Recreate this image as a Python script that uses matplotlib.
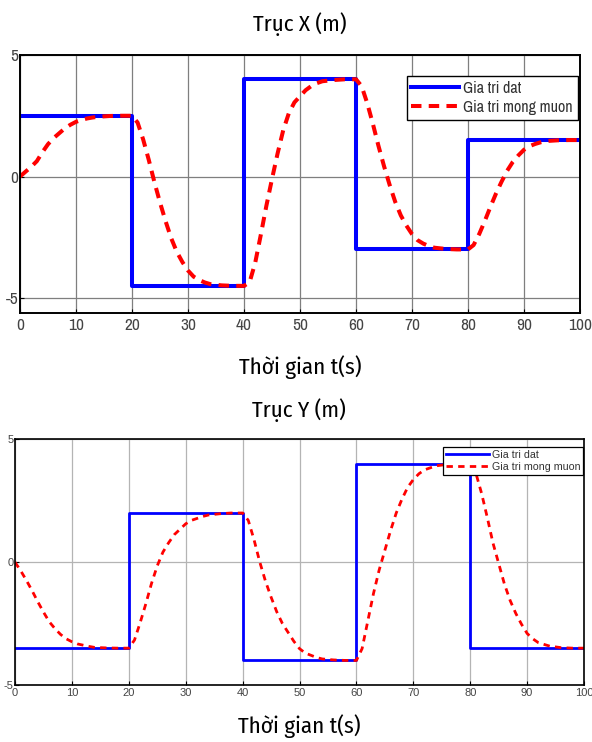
import matplotlib
matplotlib.use("Agg")
import matplotlib.pyplot as plt

plt.rcParams["axes.unicode_minus"] = False

# gia tri dat (step setpoints)
t_dat = [0, 20, 40, 60, 80, 100]
x_dat = [2.5, -4.5, 4, -3, 1.5, 1.5]
y_dat = [-3.5, 2, -4, 4, -3.5, -3.5]

# gia tri mong muon
t_mm = [0, 1, 2, 3, 4, 5, 6, 7, 8, 9, 10, 11, 12, 13, 14, 16, 18,
        20, 21, 22, 23, 24, 25, 26, 27, 28, 29, 30, 31, 32, 33, 34, 36, 38,
        40, 41, 42, 43, 44, 45, 46, 47, 48, 49, 50, 51, 52, 53, 54, 56, 58,
        60, 61, 62, 63, 64, 65, 66, 67, 68, 69, 70, 71, 72, 73, 74, 76, 78,
        80, 81, 82, 83, 84, 85, 86, 87, 88, 89, 90, 91, 92, 93, 94, 96, 98,
        100]
x_mm = [0, 0.2, 0.4, 0.63, 1.0, 1.33, 1.58, 1.78, 1.98, 2.13, 2.25, 2.33, 2.39, 2.43, 2.46, 2.49, 2.5,
        2.5, 2.22, 1.52, 0.68, -0.23, -1.07, -1.84, -2.54, -3.1, -3.52, -3.87, -4.12, -4.26, -4.36, -4.43, -4.48, -4.5,
        -4.5, -4.35, -3.55, -2.4, -1.2, -0.1, 0.95, 1.9, 2.6, 3.05, 3.3, 3.55, 3.72, 3.84, 3.92, 3.97, 4.0,
        4, 3.72, 3.02, 2.18, 1.27, 0.43, -0.34, -1.04, -1.6, -2.02, -2.37, -2.62, -2.76, -2.86, -2.93, -2.98, -3,
        -3, -2.82, -2.37, -1.83, -1.25, -0.7, -0.21, 0.24, 0.6, 0.87, 1.1, 1.25, 1.34, 1.41, 1.46, 1.49, 1.5,
        1.5]
y_mm = [0, -0.35, -0.74, -1.16, -1.61, -2.03, -2.42, -2.7, -2.94, -3.12, -3.24, -3.33, -3.38, -3.43, -3.47, -3.49, -3.5,
        -3.5, -3.17, -2.46, -1.69, -0.86, -0.15, 0.41, 0.79, 1.12, 1.34, 1.56, 1.7, 1.78, 1.86, 1.92, 1.97, 2.0,
        2, 1.7, 0.92, 0.02, -0.76, -1.42, -2.02, -2.5, -2.86, -3.22, -3.52, -3.7, -3.79, -3.88, -3.94, -3.98, -4,
        -4, -3.52, -2.4, -1.28, -0.32, 0.48, 1.28, 2.0, 2.56, 3.04, 3.36, 3.6, 3.76, 3.84, 3.92, 3.98, 4,
        4, 3.62, 2.8, 1.82, 0.78, -0.05, -0.88, -1.55, -2.08, -2.52, -2.9, -3.12, -3.28, -3.35, -3.42, -3.48, -3.5,
        -3.5]

x_ticks = [0, 10, 20, 30, 40, 50, 60, 70, 80, 90, 100]
y_ticks = [-5, 0, 5]
labels = ["Gia tri dat", "Gia tri mong muon"]

cond = ["Fira Sans Condensed", "DejaVu Sans"]
narrow = ["Archivo Narrow", "Liberation Sans", "DejaVu Sans"]
regular = ["Liberation Sans", "DejaVu Sans"]

fig = plt.figure(figsize=(5.92, 7.42), dpi=100)
W, H = 592.0, 742.0


def px_axes(left, top, right, bottom):
    return fig.add_axes([left / W, 1 - bottom / H, (right - left) / W, (bottom - top) / H])


# ---- Truc X ----
ax1 = px_axes(20, 55, 580, 312.6)
ax1.step(t_dat, x_dat, where="post", color="#0000ff", lw=2.9, label=labels[0])
ax1.plot(t_mm, x_mm, color="#ff0000", lw=2.9, dashes=(2.6, 1.8), label=labels[1])
ax1.set_xlim(0, 100)
ax1.set_ylim(-5.6, 5)
ax1.set_xticks(x_ticks)
ax1.set_yticks(y_ticks)
ax1.grid(True, color="#7f7f7f", lw=0.9)
ax1.tick_params(direction="in", length=3, width=0.8, pad=4, colors="black",
                labelcolor="#444444")
for lab in ax1.get_xticklabels() + ax1.get_yticklabels():
    lab.set_family(narrow)
    lab.set_fontsize(12.5)
ax1.tick_params(axis="y", pad=1)
for s in ax1.spines.values():
    s.set_linewidth(1.4)
leg = ax1.legend(loc="upper right", bbox_to_anchor=(0.996, 0.918), borderaxespad=0,
                 prop={"family": narrow, "size": 11.5}, handlelength=3.0,
                 handletextpad=0.25, labelspacing=0.25, borderpad=0.3,
                 fancybox=False, framealpha=1)
leg.get_frame().set_edgecolor("black")
leg.get_frame().set_linewidth(1.0)
for txt in leg.get_texts():
    txt.set_color("#333333")

fig.text(300 / W, 1 - 24 / H, "Trục X (m)", family=cond, fontsize=16.5,
         ha="center", va="center")
fig.text(300 / W, 1 - 367 / H, "Thời gian t(s)", family=cond, fontsize=16.5,
         ha="center", va="center")

# ---- Truc Y ----
ax2 = px_axes(15, 439.3, 584, 685)
ax2.step(t_dat, y_dat, where="post", color="#0000ff", lw=2.0, label=labels[0])
ax2.plot(t_mm, y_mm, color="#ff0000", lw=2.0, dashes=(2.3, 1.9), label=labels[1])
ax2.set_xlim(0, 100)
ax2.set_ylim(-5, 5)
ax2.set_xticks(x_ticks)
ax2.set_yticks(y_ticks)
ax2.grid(True, color="#b4b4b4", lw=0.9)
ax2.tick_params(direction="in", length=3, width=0.8, pad=2, labelsize=8,
                colors="black", labelcolor="#444444")
for lab in ax2.get_xticklabels() + ax2.get_yticklabels():
    lab.set_family(regular)
ax2.tick_params(axis="y", pad=1)
for s in ax2.spines.values():
    s.set_linewidth(1.2)
leg2 = ax2.legend(loc="upper right", bbox_to_anchor=(0.999, 0.97), borderaxespad=0,
                  prop={"family": regular, "size": 7.7}, handlelength=4.0,
                  handletextpad=0.25, labelspacing=0.2, borderpad=0.3,
                  fancybox=False, framealpha=1)
leg2.get_frame().set_edgecolor("black")
leg2.get_frame().set_linewidth(0.9)
for txt in leg2.get_texts():
    txt.set_color("#333333")

fig.text(299 / W, 1 - 410 / H, "Trục Y (m)", family=cond, fontsize=16.5,
         ha="center", va="center")
fig.text(299 / W, 1 - 726 / H, "Thời gian t(s)", family=cond, fontsize=16.5,
         ha="center", va="center")

fig.savefig("out.png", dpi=100)
